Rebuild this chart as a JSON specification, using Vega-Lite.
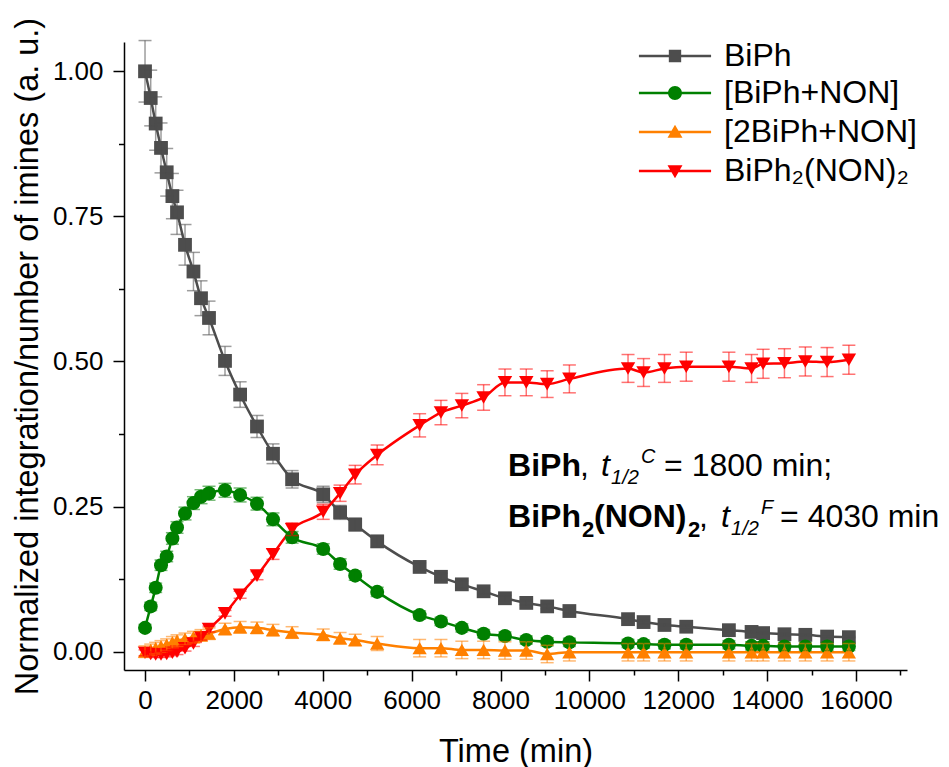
{
 "$schema": "https://vega.github.io/schema/vega-lite/v6.json",
 "width": 783, "height": 628, "autosize": "none",
 "padding": {"left": 124, "top": 42, "right": 42, "bottom": 97},
 "background": "white",
 "config": {
  "view": {"stroke": null},
  "font": "Liberation Sans",
  "axis": {"grid": false, "domainColor": "black", "domainWidth": 1.5, "tickColor": "black", "tickWidth": 1.5,
   "labelColor": "black", "titleColor": "black", "labelFont": "Liberation Sans", "titleFont": "Liberation Sans",
   "labelFontSize": 26, "titleFontSize": 32.5, "titleFontWeight": "normal", "labelOverlap": false, "labelFlush": false, "labelBound": false},
  "legend": {"orient": "none", "title": null, "padding": 0, "labelFontSize": 32, "labelFont": "Liberation Sans", "labelColor": "black",
   "labelLimit": 400, "symbolSize": 169, "symbolStrokeWidth": 0, "symbolOpacity": 1, "labelOffset": 33}
 },
 "resolve": {"scale": {"shape": "independent"}},
 "data": {"values": [
  {"series":"BiPh","t":0,"v":1.000,"e":0.053},{"series":"BiPh","t":128,"v":0.954,"e":0.048},{"series":"BiPh","t":240,"v":0.910,"e":0.046},{"series":"BiPh","t":360,"v":0.868,"e":0.043},{"series":"BiPh","t":488,"v":0.826,"e":0.041},{"series":"BiPh","t":616,"v":0.785,"e":0.039},{"series":"BiPh","t":720,"v":0.757,"e":0.038},{"series":"BiPh","t":900,"v":0.701,"e":0.035},{"series":"BiPh","t":1090,"v":0.655,"e":0.033},{"series":"BiPh","t":1260,"v":0.609,"e":0.030},{"series":"BiPh","t":1440,"v":0.575,"e":0.029},{"series":"BiPh","t":1800,"v":0.501,"e":0.025},{"series":"BiPh","t":2140,"v":0.443,"e":0.022},{"series":"BiPh","t":2520,"v":0.388,"e":0.019},{"series":"BiPh","t":2880,"v":0.341,"e":0.017},{"series":"BiPh","t":3310,"v":0.297,"e":0.015},{"series":"BiPh","t":4010,"v":0.271,"e":0.014},{"series":"BiPh","t":4390,"v":0.240,"e":0.012},{"series":"BiPh","t":4730,"v":0.219,"e":0.011},{"series":"BiPh","t":5225,"v":0.190,"e":0.010},{"series":"BiPh","t":6180,"v":0.146,"e":0.007},{"series":"BiPh","t":6660,"v":0.129,"e":0.006},{"series":"BiPh","t":7130,"v":0.116,"e":0.006},{"series":"BiPh","t":7620,"v":0.104,"e":0.005},{"series":"BiPh","t":8100,"v":0.092,"e":0.005},{"series":"BiPh","t":8580,"v":0.084,"e":0.004},{"series":"BiPh","t":9050,"v":0.078,"e":0.004},{"series":"BiPh","t":9550,"v":0.070,"e":0.004},{"series":"BiPh","t":10870,"v":0.056,"e":0.003},{"series":"BiPh","t":11220,"v":0.051,"e":0.003},{"series":"BiPh","t":11690,"v":0.046,"e":0.002},{"series":"BiPh","t":12180,"v":0.043,"e":0.002},{"series":"BiPh","t":13140,"v":0.037,"e":0.002},{"series":"BiPh","t":13650,"v":0.034,"e":0.002},{"series":"BiPh","t":13910,"v":0.032,"e":0.002},{"series":"BiPh","t":14390,"v":0.030,"e":0.002},{"series":"BiPh","t":14860,"v":0.029,"e":0.001},{"series":"BiPh","t":15350,"v":0.026,"e":0.001},{"series":"BiPh","t":15840,"v":0.025,"e":0.001},
  {"series":"[BiPh+NON]","t":0,"v":0.041,"e":0.006},{"series":"[BiPh+NON]","t":128,"v":0.078,"e":0.007},{"series":"[BiPh+NON]","t":240,"v":0.110,"e":0.008},{"series":"[BiPh+NON]","t":360,"v":0.149,"e":0.009},{"series":"[BiPh+NON]","t":488,"v":0.164,"e":0.009},{"series":"[BiPh+NON]","t":616,"v":0.195,"e":0.010},{"series":"[BiPh+NON]","t":720,"v":0.214,"e":0.010},{"series":"[BiPh+NON]","t":900,"v":0.238,"e":0.011},{"series":"[BiPh+NON]","t":1090,"v":0.256,"e":0.011},{"series":"[BiPh+NON]","t":1260,"v":0.267,"e":0.012},{"series":"[BiPh+NON]","t":1440,"v":0.273,"e":0.012},{"series":"[BiPh+NON]","t":1800,"v":0.278,"e":0.012},{"series":"[BiPh+NON]","t":2140,"v":0.270,"e":0.012},{"series":"[BiPh+NON]","t":2520,"v":0.255,"e":0.011},{"series":"[BiPh+NON]","t":2880,"v":0.228,"e":0.011},{"series":"[BiPh+NON]","t":3310,"v":0.197,"e":0.010},{"series":"[BiPh+NON]","t":4010,"v":0.177,"e":0.009},{"series":"[BiPh+NON]","t":4390,"v":0.151,"e":0.009},{"series":"[BiPh+NON]","t":4730,"v":0.131,"e":0.008},{"series":"[BiPh+NON]","t":5225,"v":0.103,"e":0.008},{"series":"[BiPh+NON]","t":6180,"v":0.063,"e":0.007},{"series":"[BiPh+NON]","t":6660,"v":0.052,"e":0.007},{"series":"[BiPh+NON]","t":7130,"v":0.041,"e":0.007},{"series":"[BiPh+NON]","t":7620,"v":0.031,"e":0.007},{"series":"[BiPh+NON]","t":8100,"v":0.027,"e":0.007},{"series":"[BiPh+NON]","t":8580,"v":0.020,"e":0.007},{"series":"[BiPh+NON]","t":9050,"v":0.017,"e":0.007},{"series":"[BiPh+NON]","t":9550,"v":0.016,"e":0.007},{"series":"[BiPh+NON]","t":10870,"v":0.014,"e":0.007},{"series":"[BiPh+NON]","t":11220,"v":0.013,"e":0.007},{"series":"[BiPh+NON]","t":11690,"v":0.012,"e":0.007},{"series":"[BiPh+NON]","t":12180,"v":0.012,"e":0.007},{"series":"[BiPh+NON]","t":13140,"v":0.012,"e":0.007},{"series":"[BiPh+NON]","t":13650,"v":0.010,"e":0.007},{"series":"[BiPh+NON]","t":13910,"v":0.010,"e":0.007},{"series":"[BiPh+NON]","t":14390,"v":0.009,"e":0.007},{"series":"[BiPh+NON]","t":14860,"v":0.009,"e":0.007},{"series":"[BiPh+NON]","t":15350,"v":0.009,"e":0.007},{"series":"[BiPh+NON]","t":15840,"v":0.009,"e":0.007},
  {"series":"[2BiPh+NON]","t":0,"v":0.000,"e":0.010},{"series":"[2BiPh+NON]","t":128,"v":0.003,"e":0.010},{"series":"[2BiPh+NON]","t":240,"v":0.006,"e":0.010},{"series":"[2BiPh+NON]","t":360,"v":0.009,"e":0.010},{"series":"[2BiPh+NON]","t":488,"v":0.012,"e":0.010},{"series":"[2BiPh+NON]","t":616,"v":0.016,"e":0.010},{"series":"[2BiPh+NON]","t":720,"v":0.019,"e":0.010},{"series":"[2BiPh+NON]","t":900,"v":0.022,"e":0.010},{"series":"[2BiPh+NON]","t":1090,"v":0.025,"e":0.010},{"series":"[2BiPh+NON]","t":1260,"v":0.028,"e":0.010},{"series":"[2BiPh+NON]","t":1440,"v":0.031,"e":0.010},{"series":"[2BiPh+NON]","t":1800,"v":0.039,"e":0.010},{"series":"[2BiPh+NON]","t":2140,"v":0.042,"e":0.010},{"series":"[2BiPh+NON]","t":2520,"v":0.041,"e":0.010},{"series":"[2BiPh+NON]","t":2880,"v":0.037,"e":0.010},{"series":"[2BiPh+NON]","t":3310,"v":0.033,"e":0.010},{"series":"[2BiPh+NON]","t":4010,"v":0.029,"e":0.010},{"series":"[2BiPh+NON]","t":4390,"v":0.023,"e":0.010},{"series":"[2BiPh+NON]","t":4730,"v":0.020,"e":0.010},{"series":"[2BiPh+NON]","t":5225,"v":0.014,"e":0.012},{"series":"[2BiPh+NON]","t":6180,"v":0.006,"e":0.015},{"series":"[2BiPh+NON]","t":6660,"v":0.006,"e":0.015},{"series":"[2BiPh+NON]","t":7130,"v":0.003,"e":0.015},{"series":"[2BiPh+NON]","t":7620,"v":0.003,"e":0.015},{"series":"[2BiPh+NON]","t":8100,"v":0.002,"e":0.015},{"series":"[2BiPh+NON]","t":8580,"v":0.002,"e":0.015},{"series":"[2BiPh+NON]","t":9050,"v":-0.004,"e":0.015},{"series":"[2BiPh+NON]","t":9550,"v":-0.001,"e":0.015},{"series":"[2BiPh+NON]","t":10870,"v":-0.001,"e":0.015},{"series":"[2BiPh+NON]","t":11220,"v":-0.001,"e":0.015},{"series":"[2BiPh+NON]","t":11690,"v":-0.001,"e":0.015},{"series":"[2BiPh+NON]","t":12180,"v":-0.001,"e":0.015},{"series":"[2BiPh+NON]","t":13140,"v":-0.001,"e":0.015},{"series":"[2BiPh+NON]","t":13650,"v":-0.001,"e":0.015},{"series":"[2BiPh+NON]","t":13910,"v":-0.001,"e":0.015},{"series":"[2BiPh+NON]","t":14390,"v":-0.001,"e":0.015},{"series":"[2BiPh+NON]","t":14860,"v":-0.001,"e":0.015},{"series":"[2BiPh+NON]","t":15350,"v":-0.001,"e":0.015},{"series":"[2BiPh+NON]","t":15840,"v":-0.001,"e":0.015},
  {"series":"BiPh₂(NON)₂","t":0,"v":-0.002,"e":0.005},{"series":"BiPh₂(NON)₂","t":128,"v":-0.004,"e":0.005},{"series":"BiPh₂(NON)₂","t":240,"v":-0.005,"e":0.005},{"series":"BiPh₂(NON)₂","t":360,"v":-0.005,"e":0.005},{"series":"BiPh₂(NON)₂","t":488,"v":-0.004,"e":0.005},{"series":"BiPh₂(NON)₂","t":616,"v":-0.002,"e":0.005},{"series":"BiPh₂(NON)₂","t":720,"v":0.000,"e":0.005},{"series":"BiPh₂(NON)₂","t":900,"v":0.006,"e":0.005},{"series":"BiPh₂(NON)₂","t":1090,"v":0.014,"e":0.005},{"series":"BiPh₂(NON)₂","t":1260,"v":0.025,"e":0.005},{"series":"BiPh₂(NON)₂","t":1440,"v":0.039,"e":0.005},{"series":"BiPh₂(NON)₂","t":1800,"v":0.066,"e":0.005},{"series":"BiPh₂(NON)₂","t":2140,"v":0.098,"e":0.006},{"series":"BiPh₂(NON)₂","t":2520,"v":0.131,"e":0.007},{"series":"BiPh₂(NON)₂","t":2880,"v":0.168,"e":0.009},{"series":"BiPh₂(NON)₂","t":3310,"v":0.211,"e":0.011},{"series":"BiPh₂(NON)₂","t":4010,"v":0.241,"e":0.013},{"series":"BiPh₂(NON)₂","t":4390,"v":0.273,"e":0.014},{"series":"BiPh₂(NON)₂","t":4730,"v":0.305,"e":0.016},{"series":"BiPh₂(NON)₂","t":5225,"v":0.339,"e":0.017},{"series":"BiPh₂(NON)₂","t":6180,"v":0.390,"e":0.020},{"series":"BiPh₂(NON)₂","t":6660,"v":0.412,"e":0.021},{"series":"BiPh₂(NON)₂","t":7130,"v":0.424,"e":0.021},{"series":"BiPh₂(NON)₂","t":7620,"v":0.438,"e":0.022},{"series":"BiPh₂(NON)₂","t":8100,"v":0.464,"e":0.023},{"series":"BiPh₂(NON)₂","t":8580,"v":0.464,"e":0.023},{"series":"BiPh₂(NON)₂","t":9050,"v":0.461,"e":0.023},{"series":"BiPh₂(NON)₂","t":9550,"v":0.470,"e":0.024},{"series":"BiPh₂(NON)₂","t":10870,"v":0.488,"e":0.024},{"series":"BiPh₂(NON)₂","t":11220,"v":0.481,"e":0.024},{"series":"BiPh₂(NON)₂","t":11690,"v":0.488,"e":0.024},{"series":"BiPh₂(NON)₂","t":12180,"v":0.491,"e":0.025},{"series":"BiPh₂(NON)₂","t":13140,"v":0.491,"e":0.025},{"series":"BiPh₂(NON)₂","t":13650,"v":0.488,"e":0.024},{"series":"BiPh₂(NON)₂","t":13910,"v":0.496,"e":0.025},{"series":"BiPh₂(NON)₂","t":14390,"v":0.497,"e":0.025},{"series":"BiPh₂(NON)₂","t":14860,"v":0.500,"e":0.025},{"series":"BiPh₂(NON)₂","t":15350,"v":0.499,"e":0.025},{"series":"BiPh₂(NON)₂","t":15840,"v":0.503,"e":0.025}
 ]},
 "layer": [
  {
   "mark": {"type": "line", "strokeWidth": 2.5, "interpolate": "monotone"},
   "encoding": {
    "x": {"field": "t", "type": "quantitative", "title": "Time (min)", "scale": {"domain": [-473, 17148], "nice": false, "zero": false},
     "axis": {"values": [0,1000,2000,3000,4000,5000,6000,7000,8000,9000,10000,11000,12000,13000,14000,15000,16000,17000],
      "format": "d", "labelExpr": "datum.value % 2000 === 0 ? datum.label : ''",
      "tickSize": {"condition": {"test": "datum.value % 2000 === 0", "value": 11}, "value": 5},
      "labelPadding": 6, "titlePadding": 22}},
    "y": {"field": "v", "type": "quantitative", "title": "Normalized integration/number of imines (a. u.)", "scale": {"domain": [-0.0316, 1.0505], "nice": false, "zero": false},
     "axis": {"values": [0,0.125,0.25,0.375,0.5,0.625,0.75,0.875,1], "format": ".2f",
      "labelExpr": "round(datum.value*1000) % 250 === 0 ? datum.label : ''",
      "tickSize": {"condition": {"test": "round(datum.value*1000) % 250 === 0", "value": 11}, "value": 5.5},
      "labelPadding": 10, "titlePadding": 8}},
    "color": {"field": "series", "type": "nominal",
     "scale": {"domain": ["BiPh","[BiPh+NON]","[2BiPh+NON]","BiPh₂(NON)₂"], "range": ["#4d4d4d","#008000","#ff8000","#ff0000"]},
     "legend": null}
   }
  },
  {
   "mark": {"type": "point", "filled": true, "opacity": 1, "strokeWidth": 0},
   "encoding": {
    "x": {"field": "t", "type": "quantitative", "title": "Time (min)"},
    "y": {"field": "v", "type": "quantitative", "title": "Normalized integration/number of imines (a. u.)"},
    "color": {"field": "series", "type": "nominal", "legend": null},
    "shape": {"field": "series", "type": "nominal",
     "scale": {"domain": ["BiPh","[BiPh+NON]","[2BiPh+NON]","BiPh₂(NON)₂"], "range": ["square","circle","triangle-up","triangle-down"]},
     "legend": null},
    "size": {"field": "series", "type": "nominal",
     "scale": {"domain": ["BiPh","[BiPh+NON]","[2BiPh+NON]","BiPh₂(NON)₂"], "range": [190, 210, 380, 400]},
     "legend": null}
   }
  },
  {
   "mark": {"type": "errorbar", "thickness": 1.5, "rule": {"opacity": 0.55}, "ticks": {"size": 13, "opacity": 0.55}},
   "encoding": {
    "x": {"field": "t", "type": "quantitative", "title": "Time (min)"},
    "y": {"field": "v", "type": "quantitative", "title": "Normalized integration/number of imines (a. u.)"},
    "yError": {"field": "e"},
    "color": {"field": "series", "type": "nominal", "legend": null}
   }
  },
  {
   "transform": [{"filter": "datum.series === 'BiPh'"}],
   "mark": {"type": "point", "filled": true, "opacity": 0, "size": 169, "color": "#4d4d4d", "strokeWidth": 0},
   "encoding": {
    "x": {"field": "t", "type": "quantitative", "title": "Time (min)"},
    "y": {"field": "v", "type": "quantitative", "title": "Normalized integration/number of imines (a. u.)"},
    "shape": {"field": "series", "type": "nominal",
     "scale": {"domain": ["BiPh"], "range": ["M-5.55,-0.19H5.55V0.19H-5.55ZM-0.95,-0.95H0.95V0.95H-0.95Z"]},
     "legend": {"legendX": 535, "legendY": -2, "symbolFillColor": "#555555"}}
   }
  },
  {
   "transform": [{"filter": "datum.series === '[BiPh+NON]'"}],
   "mark": {"type": "point", "filled": true, "opacity": 0, "size": 169, "color": "#008000", "strokeWidth": 0},
   "encoding": {
    "x": {"field": "t", "type": "quantitative", "title": "Time (min)"},
    "y": {"field": "v", "type": "quantitative", "title": "Normalized integration/number of imines (a. u.)"},
    "shape": {"field": "series", "type": "nominal",
     "scale": {"domain": ["[BiPh+NON]"], "range": ["M-5.55,-0.19H5.55V0.19H-5.55ZM-1.07,0A1.07,1.07,0,1,1,1.07,0A1.07,1.07,0,1,1,-1.07,0Z"]},
     "legend": {"legendX": 535, "legendY": 35, "symbolFillColor": "#008000"}}
   }
  },
  {
   "transform": [{"filter": "datum.series === '[2BiPh+NON]'"}],
   "mark": {"type": "point", "filled": true, "opacity": 0, "size": 169, "color": "#ff8000", "strokeWidth": 0},
   "encoding": {
    "x": {"field": "t", "type": "quantitative", "title": "Time (min)"},
    "y": {"field": "v", "type": "quantitative", "title": "Normalized integration/number of imines (a. u.)"},
    "shape": {"field": "series", "type": "nominal",
     "scale": {"domain": ["[2BiPh+NON]"], "range": ["M-5.55,-0.19H5.55V0.19H-5.55ZM0,-1.1L1.15,0.9H-1.15Z"]},
     "legend": {"legendX": 535, "legendY": 74, "symbolFillColor": "#ff8000"}}
   }
  },
  {
   "transform": [{"filter": "datum.series === 'BiPh₂(NON)₂'"}],
   "mark": {"type": "point", "filled": true, "opacity": 0, "size": 169, "color": "#ff0000", "strokeWidth": 0},
   "encoding": {
    "x": {"field": "t", "type": "quantitative", "title": "Time (min)"},
    "y": {"field": "v", "type": "quantitative", "title": "Normalized integration/number of imines (a. u.)"},
    "shape": {"field": "series", "type": "nominal",
     "scale": {"domain": ["BiPh₂(NON)₂"], "range": ["M-5.55,-0.19H5.55V0.19H-5.55ZM0,1.1L-1.15,-0.9H1.15Z"]},
     "legend": {"legendX": 535, "legendY": 113, "symbolFillColor": "#ff0000"}}
   }
  },
  {"data": {"values": [{}]}, "mark": {"type": "text", "text": "BiPh", "fontSize": 32, "fontWeight": "bold", "align": "left", "baseline": "alphabetic", "dx": 0, "color": "black"}, "encoding": {"x": {"datum": 8170}, "y": {"datum": 0.3034}}},
  {"data": {"values": [{}]}, "mark": {"type": "text", "text": ",", "fontSize": 32, "align": "left", "baseline": "alphabetic", "dx": 72, "color": "black"}, "encoding": {"x": {"datum": 8170}, "y": {"datum": 0.3034}}},
  {"data": {"values": [{}]}, "mark": {"type": "text", "text": "t", "fontSize": 32, "fontStyle": "italic", "align": "left", "baseline": "alphabetic", "dx": 93, "color": "black"}, "encoding": {"x": {"datum": 8170}, "y": {"datum": 0.3034}}},
  {"data": {"values": [{}]}, "mark": {"type": "text", "text": "1/2", "fontSize": 20, "fontStyle": "italic", "align": "left", "baseline": "alphabetic", "dx": 103, "dy": 8, "color": "black"}, "encoding": {"x": {"datum": 8170}, "y": {"datum": 0.3034}}},
  {"data": {"values": [{}]}, "mark": {"type": "text", "text": "C", "fontSize": 20, "fontStyle": "italic", "align": "left", "baseline": "alphabetic", "dx": 133, "dy": -13, "color": "black"}, "encoding": {"x": {"datum": 8170}, "y": {"datum": 0.3034}}},
  {"data": {"values": [{}]}, "mark": {"type": "text", "text": "= 1800 min;", "fontSize": 32, "align": "left", "baseline": "alphabetic", "dx": 156, "color": "black"}, "encoding": {"x": {"datum": 8170}, "y": {"datum": 0.3034}}},
  {"data": {"values": [{}]}, "mark": {"type": "text", "text": "BiPh", "fontSize": 32, "fontWeight": "bold", "align": "left", "baseline": "alphabetic", "dx": 0, "color": "black"}, "encoding": {"x": {"datum": 8170}, "y": {"datum": 0.2143}}},
  {"data": {"values": [{}]}, "mark": {"type": "text", "text": "2", "fontSize": 22, "fontWeight": "bold", "align": "left", "baseline": "alphabetic", "dx": 74, "dy": 10, "color": "black"}, "encoding": {"x": {"datum": 8170}, "y": {"datum": 0.2143}}},
  {"data": {"values": [{}]}, "mark": {"type": "text", "text": "(NON)", "fontSize": 32, "fontWeight": "bold", "align": "left", "baseline": "alphabetic", "dx": 86, "color": "black"}, "encoding": {"x": {"datum": 8170}, "y": {"datum": 0.2143}}},
  {"data": {"values": [{}]}, "mark": {"type": "text", "text": "2", "fontSize": 22, "fontWeight": "bold", "align": "left", "baseline": "alphabetic", "dx": 180, "dy": 10, "color": "black"}, "encoding": {"x": {"datum": 8170}, "y": {"datum": 0.2143}}},
  {"data": {"values": [{}]}, "mark": {"type": "text", "text": ",", "fontSize": 32, "align": "left", "baseline": "alphabetic", "dx": 191, "color": "black"}, "encoding": {"x": {"datum": 8170}, "y": {"datum": 0.2143}}},
  {"data": {"values": [{}]}, "mark": {"type": "text", "text": "t", "fontSize": 32, "fontStyle": "italic", "align": "left", "baseline": "alphabetic", "dx": 213, "color": "black"}, "encoding": {"x": {"datum": 8170}, "y": {"datum": 0.2143}}},
  {"data": {"values": [{}]}, "mark": {"type": "text", "text": "1/2", "fontSize": 20, "fontStyle": "italic", "align": "left", "baseline": "alphabetic", "dx": 223, "dy": 8, "color": "black"}, "encoding": {"x": {"datum": 8170}, "y": {"datum": 0.2143}}},
  {"data": {"values": [{}]}, "mark": {"type": "text", "text": "F", "fontSize": 20, "fontStyle": "italic", "align": "left", "baseline": "alphabetic", "dx": 253, "dy": -13, "color": "black"}, "encoding": {"x": {"datum": 8170}, "y": {"datum": 0.2143}}},
  {"data": {"values": [{}]}, "mark": {"type": "text", "text": "= 4030 min", "fontSize": 32, "align": "left", "baseline": "alphabetic", "dx": 272, "color": "black"}, "encoding": {"x": {"datum": 8170}, "y": {"datum": 0.2143}}}
 ]
}
